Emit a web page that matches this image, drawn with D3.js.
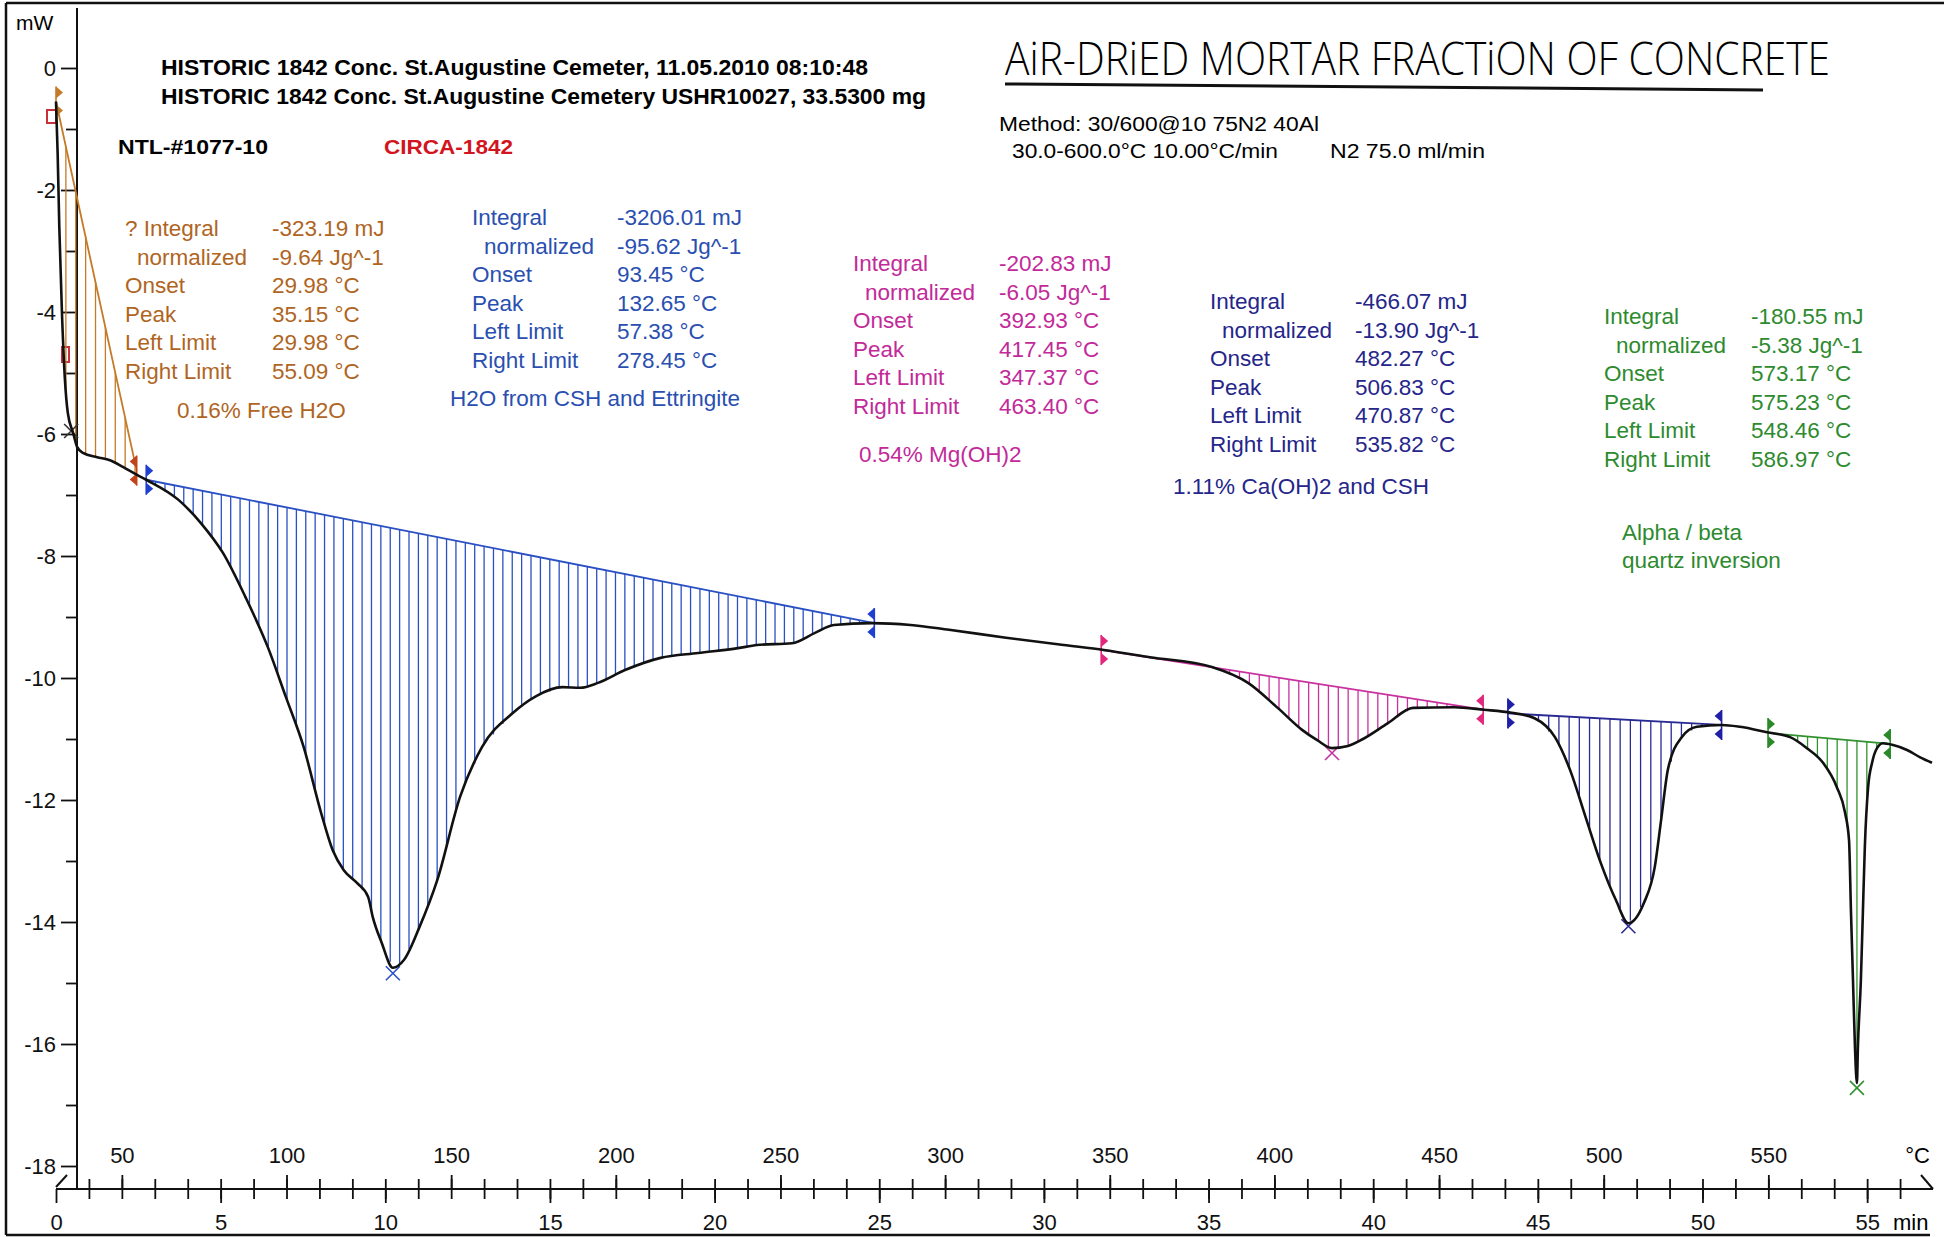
<!DOCTYPE html>
<html>
<head>
<meta charset="utf-8">
<title>DSC curve - air-dried mortar fraction of concrete</title>
<script src="https://cdn.jsdelivr.net/npm/d3@7"></script>
<style>
  body { margin: 0; background: #fff; }
  svg { display: block; font-family: "Liberation Sans", Arial, Helvetica, sans-serif; }
  .curve { fill: none; stroke: #111; stroke-width: 2.6px; stroke-linejoin: round; }
  .axis text { font-family: "Liberation Sans", Arial, sans-serif; font-size: 22px; fill: #111; }
  .axis line { stroke: #111; stroke-width: 1.8px; }
  .spine { stroke: #111; stroke-width: 2px; }
  .frame { stroke: #111; stroke-width: 2.5px; }
</style>
</head>
<body>
<script>
(function(){

    //measured DSC curve: time (min) and heat flow (mW)
    var curveMin = [0.00, 0.05, 0.10, 0.18, 0.27, 0.36, 0.52, 0.64, 0.82, 1.25,
        1.64, 2.03, 2.46, 2.74, 3.72, 4.40, 5.07, 5.75, 6.43, 6.98,
        7.52, 8.05, 8.40, 8.74, 9.14, 9.48, 9.62, 9.89, 10.23, 10.57,
        11.04, 11.58, 12.27, 12.94, 13.88, 14.57, 15.38, 15.92, 16.46, 17.28,
        18.36, 19.50, 20.71, 21.29, 22.35, 23.05, 23.62, 24.78, 25.95, 27.12,
        28.85, 30.60, 31.82, 33.22, 35.10, 36.20, 37.10, 37.84, 38.30, 38.75,
        39.20, 39.69, 40.45, 41.21, 42.45, 43.36, 44.20, 44.90, 45.52, 45.98,
        46.45, 46.91, 47.37, 47.75, 48.22, 48.55, 48.75, 48.95, 49.37, 49.83,
        50.59, 51.14, 51.96, 52.66, 53.17, 53.66, 54.08, 54.33, 54.45, 54.51,
        54.57, 54.63, 54.69, 54.72, 54.81, 54.87, 54.93, 55.03, 55.15, 55.30,
        55.48, 55.79, 56.21, 56.61, 56.97];
    var curveMw = [-0.55, -1.40, -2.60, -4.00, -5.10, -5.66, -5.98, -6.21, -6.31, -6.38,
        -6.43, -6.54, -6.67, -6.75, -7.08, -7.46, -7.95, -8.67, -9.49, -10.31,
        -11.13, -12.21, -12.82, -13.15, -13.36, -13.59, -13.92, -14.34, -14.75, -14.62,
        -14.08, -13.31, -11.95, -11.13, -10.57, -10.30, -10.15, -10.16, -10.08, -9.87,
        -9.67, -9.59, -9.51, -9.46, -9.43, -9.26, -9.13, -9.10, -9.13, -9.21,
        -9.34, -9.46, -9.54, -9.66, -9.82, -10.08, -10.49, -10.85, -11.02, -11.15,
        -11.12, -11.00, -10.74, -10.49, -10.48, -10.52, -10.57, -10.66, -10.97, -11.51,
        -12.28, -13.03, -13.64, -14.02, -13.69, -13.10, -12.30, -11.50, -10.97, -10.80,
        -10.77, -10.80, -10.89, -10.97, -11.15, -11.39, -11.79, -12.21, -12.66, -13.85,
        -14.95, -16.05, -16.64, -16.05, -14.95, -13.85, -12.77, -11.79, -11.39, -11.15,
        -11.07, -11.10, -11.18, -11.30, -11.39];

    //integration limits (baseline ends) and peak marks for the 5 evaluated peaks
    var peakLeftMin = [0.00, 2.74, 31.74, 44.09, 51.99];
    var peakLeftMw = [-0.55, -6.75, -9.54, -10.58, -10.90];
    var peakRightMin = [2.45, 24.85, 43.34, 50.58, 55.70];
    var peakRightMw = [-6.60, -9.10, -10.52, -10.77, -11.08];
    var peakMarkMin = [0.46, 10.23, 38.75, 47.75, 54.69];
    var peakMarkMw = [-5.95, -14.84, -11.23, -14.07, -16.72];

    //evaluation results printed next to each peak
    var resultLabels = ["Integral", "normalized", "Onset", "Peak", "Left Limit", "Right Limit"];
    var freeWaterValues = ["-323.19 mJ", "-9.64 Jg^-1", "29.98 °C", "35.15 °C", "29.98 °C", "55.09 °C"];
    var cshValues = ["-3206.01 mJ", "-95.62 Jg^-1", "93.45 °C", "132.65 °C", "57.38 °C", "278.45 °C"];
    var mgValues = ["-202.83 mJ", "-6.05 Jg^-1", "392.93 °C", "417.45 °C", "347.37 °C", "463.40 °C"];
    var caValues = ["-466.07 mJ", "-13.90 Jg^-1", "482.27 °C", "506.83 °C", "470.87 °C", "535.82 °C"];
    var quartzValues = ["-180.55 mJ", "-5.38 Jg^-1", "573.17 °C", "575.23 °C", "548.46 °C", "586.97 °C"];
    var peakNotes = [["0.16% Free H2O"], ["H2O from CSH and Ettringite"], ["0.54% Mg(OH)2"],
        ["1.11% Ca(OH)2 and CSH"], ["Alpha / beta", "quartz inversion"]];

    //axis ticks
    var mwMajorTicks = [0, -2, -4, -6, -8, -10, -12, -14, -16, -18];
    var mwMinorTicks = [-1, -3, -5, -7, -9, -11, -13, -15, -17];
    var minTicks = [0, 5, 10, 15, 20, 25, 30, 35, 40, 45, 50, 55];
    var tempTicks = [50, 100, 150, 200, 250, 300, 350, 400, 450, 500, 550];

    //header texts
    var headerLines = ["HISTORIC 1842 Conc. St.Augustine Cemeter, 11.05.2010 08:10:48",
        "HISTORIC 1842 Conc. St.Augustine Cemetery USHR10027, 33.5300 mg"];
    var sampleId = "NTL-#1077-10";
    var sampleAge = "CIRCA-1842";
    var handTitle = "AiR-DRiED MORTAR FRACTiON OF CONCRETE";
    var methodLines = ["Method: 30/600@10 75N2 40Al", "30.0-600.0°C 10.00°C/min", "N2 75.0 ml/min"];

    function setChart(){

        var width = 1944,
            height = 1237;

        var svg = d3.select("body")
            .append("svg")
            .attr("width", width)
            .attr("height", height);

        //time axis 0..57 min, temperature runs 30..600 °C on the same span
        var x = d3.scaleLinear().domain([0, 57]).range([56, 1933]);
        var xT = d3.scaleLinear().domain([30, 600]).range([56, 1933]);
        var y = d3.scaleLinear().domain([0, -18]).range([68, 1166]);
        var axisY = 1189, spineX = 77;

        //colours per peak
        var textColors = ["#b0651f", "#2a4fb0", "#c22a9a", "#25258a", "#2e8a2e"];
        var hatchColors = ["#c47a26", "#2a50c4", "#c8329f", "#2a2a95", "#32922f"];
        var leftMarkColors = ["#c47a26", "#1f3fd0", "#e2287c", "#1f1fa8", "#2a8a2a"];
        var rightMarkColors = ["#c2421a", "#1f3fd0", "#e2287c", "#1f1fa8", "#2a8a2a"];
        var hatchStep = [0.3, 0.285, 0.3, 0.31, 0.3];

        drawFrame(svg, width, height);
        drawAxes(svg, x, xT, y, axisY, spineX);
        drawPeaks(svg, x, y, textColors, hatchColors, leftMarkColors, rightMarkColors, hatchStep);

        //the DSC curve itself
        var line = d3.line()
            .x(function(d){ return x(d[0]); })
            .y(function(d){ return y(d[1]); })
            .curve(d3.curveMonotoneX);

        svg.append("path")
            .datum(d3.zip(curveMin, curveMw))
            .attr("class", "curve")
            .attr("d", line);

        drawTexts(svg, textColors);
    };

    function drawFrame(svg, width, height){
        svg.append("line").attr("class", "frame").attr("x1", 6).attr("y1", 3).attr("x2", width).attr("y2", 3);
        svg.append("line").attr("class", "frame").attr("x1", 6).attr("y1", 3).attr("x2", 6).attr("y2", 1235);
        svg.append("line").attr("class", "frame").attr("x1", 6).attr("y1", 1235).attr("x2", 1930).attr("y2", 1235);
    };

    function drawAxes(svg, x, xT, y, axisY, spineX){
        var noMinus = function(d){ return String(d); };

        //y axis: spine, major and minor ticks
        svg.append("line").attr("class", "spine")
            .attr("x1", spineX).attr("y1", 8).attr("x2", spineX).attr("y2", axisY);

        svg.append("g")
            .attr("class", "axis")
            .attr("transform", "translate(" + spineX + ",0)")
            .call(d3.axisLeft(y).tickValues(mwMajorTicks).tickSize(16).tickPadding(5).tickFormat(noMinus))
            .call(function(g){ g.select(".domain").remove(); });

        svg.append("g")
            .attr("class", "axis")
            .attr("transform", "translate(" + spineX + ",0)")
            .call(d3.axisLeft(y).tickValues(mwMinorTicks).tickSize(11).tickFormat(""))
            .call(function(g){ g.select(".domain").remove(); });

        svg.append("text")
            .attr("x", 16).attr("y", 30)
            .style("font-size", "21px")
            .text("mW");

        //x axis line with break marks at both ends
        svg.append("line").attr("class", "spine")
            .attr("x1", x(0)).attr("y1", axisY).attr("x2", x(57)).attr("y2", axisY);
        svg.append("line").attr("class", "spine")
            .attr("x1", x(0)).attr("y1", axisY - 2).attr("x2", x(0) + 11).attr("y2", axisY - 14);
        svg.append("line").attr("class", "spine")
            .attr("x1", x(57) - 12).attr("y1", axisY - 14).attr("x2", x(57)).attr("y2", axisY);

        //minute ticks crossing the axis
        svg.append("g")
            .attr("class", "axis")
            .attr("transform", "translate(0," + (axisY - 10) + ")")
            .call(d3.axisBottom(x).tickValues(d3.range(1, 57)).tickSize(20).tickFormat(""))
            .call(function(g){ g.select(".domain").remove(); });

        //time labels below
        svg.append("g")
            .attr("class", "axis")
            .attr("transform", "translate(0," + axisY + ")")
            .call(d3.axisBottom(x).tickValues(minTicks).tickSize(14).tickPadding(11).tickFormat(noMinus))
            .call(function(g){ g.select(".domain").remove(); });

        //temperature labels above
        svg.append("g")
            .attr("class", "axis")
            .attr("transform", "translate(0," + axisY + ")")
            .call(d3.axisTop(xT).tickValues(tempTicks).tickSize(14).tickPadding(12).tickFormat(noMinus))
            .call(function(g){ g.select(".domain").remove(); });

        svg.append("text")
            .attr("x", 1930).attr("y", axisY - 26)
            .attr("text-anchor", "end")
            .style("font-size", "22px")
            .text("°C");

        svg.append("text")
            .attr("x", 1893).attr("y", axisY + 41)
            .style("font-size", "22px")
            .text("min");
    };

    //linear reading of the curve at a given time, used for the hatch ends
    function curveAt(t){
        var i = d3.bisectLeft(curveMin, t);
        if (i <= 0) return curveMw[0];
        if (i >= curveMin.length) return curveMw[curveMw.length - 1];
        var t0 = curveMin[i - 1], t1 = curveMin[i];
        return curveMw[i - 1] + (curveMw[i] - curveMw[i - 1]) * (t - t0) / (t1 - t0);
    };

    function limitMarker(g, px, py, dir, color){
        var top = py - 15, bot = py + 15;
        g.append("line")
            .attr("x1", px).attr("y1", top).attr("x2", px).attr("y2", bot)
            .attr("stroke", color).attr("stroke-width", 1.6);
        g.append("path")
            .attr("d", "M" + px + "," + top + "L" + (px + dir * 7) + "," + (top + 6) + "L" + px + "," + (top + 12) + "Z")
            .attr("fill", color);
        g.append("path")
            .attr("d", "M" + px + "," + bot + "L" + (px + dir * 7) + "," + (bot - 6) + "L" + px + "," + (bot - 12) + "Z")
            .attr("fill", color);
    };

    function drawPeaks(svg, x, y, textColors, hatchColors, leftMarkColors, rightMarkColors, hatchStep){

        //small red reference boxes near the start of the run
        svg.append("rect").attr("x", 47).attr("y", 110).attr("width", 9).attr("height", 13)
            .attr("fill", "none").attr("stroke", "#c8303a").attr("stroke-width", 2);
        svg.append("rect").attr("x", 62).attr("y", 347).attr("width", 7).attr("height", 15)
            .attr("fill", "none").attr("stroke", "#c8303a").attr("stroke-width", 2);

        peakLeftMin.forEach(function(tL, i){
            var g = svg.append("g").attr("class", "peak peak" + i);
            var tR = peakRightMin[i], vL = peakLeftMw[i], vR = peakRightMw[i];
            var base = d3.scaleLinear().domain([tL, tR]).range([vL, vR]);

            //vertical hatching between baseline and curve
            var hatch = d3.range(tL + hatchStep[i], tR, hatchStep[i]).filter(function(t){
                return curveAt(t) < base(t) - 0.03;
            });
            g.selectAll(".hatch")
                .data(hatch)
                .enter()
                .append("line")
                .attr("class", "hatch")
                .attr("x1", function(t){ return x(t); })
                .attr("x2", function(t){ return x(t); })
                .attr("y1", function(t){ return y(base(t)); })
                .attr("y2", function(t){ return y(curveAt(t)); })
                .attr("stroke", hatchColors[i])
                .attr("stroke-width", 1.3);

            //baseline
            g.append("line")
                .attr("x1", x(tL)).attr("y1", y(vL))
                .attr("x2", x(tR)).attr("y2", y(vR))
                .attr("stroke", hatchColors[i])
                .attr("stroke-width", 1.8);

            limitMarker(g, x(tL), y(vL), 1, leftMarkColors[i]);
            limitMarker(g, x(tR), y(vR), -1, rightMarkColors[i]);

            //peak cross
            var px = x(peakMarkMin[i]), py = y(peakMarkMw[i]);
            var crossColor = i === 0 ? "#333" : hatchColors[i];
            g.append("path")
                .attr("d", "M" + (px - 7) + "," + (py - 7) + "L" + (px + 7) + "," + (py + 7) +
                    "M" + (px + 7) + "," + (py - 7) + "L" + (px - 7) + "," + (py + 7))
                .attr("stroke", crossColor)
                .attr("stroke-width", 1.6)
                .attr("fill", "none");
        });
    };

    function drawTexts(svg, textColors){

        //header
        var header = svg.append("g").style("font-weight", "bold").style("font-size", "22px");
        header.append("text").attr("x", 161).attr("y", 75)
            .attr("textLength", 707).attr("lengthAdjust", "spacingAndGlyphs").text(headerLines[0]);
        header.append("text").attr("x", 161).attr("y", 104)
            .attr("textLength", 765).attr("lengthAdjust", "spacingAndGlyphs").text(headerLines[1]);
        header.append("text").attr("x", 118).attr("y", 154).style("font-size", "21px")
            .attr("textLength", 150).attr("lengthAdjust", "spacingAndGlyphs").text(sampleId);
        header.append("text").attr("x", 384).attr("y", 154).style("font-size", "21px")
            .attr("fill", "#d2141e")
            .attr("textLength", 129).attr("lengthAdjust", "spacingAndGlyphs").text(sampleAge);

        //hand written title with underline
        svg.append("text")
            .attr("x", 1005).attr("y", 75)
            .style("font-family", "'Open Sans', 'DejaVu Sans', sans-serif")
            .style("font-weight", 300)
            .style("font-size", "46px")
            .attr("textLength", 825).attr("lengthAdjust", "spacingAndGlyphs")
            .text(handTitle);
        svg.append("line")
            .attr("x1", 1005).attr("y1", 84).attr("x2", 1763).attr("y2", 90)
            .attr("stroke", "#111").attr("stroke-width", 3);

        //method
        var method = svg.append("g").style("font-size", "20px");
        method.append("text").attr("x", 999).attr("y", 131)
            .attr("textLength", 320).attr("lengthAdjust", "spacingAndGlyphs").text(methodLines[0]);
        method.append("text").attr("x", 1012).attr("y", 158)
            .attr("textLength", 266).attr("lengthAdjust", "spacingAndGlyphs").text(methodLines[1]);
        method.append("text").attr("x", 1330).attr("y", 158)
            .attr("textLength", 155).attr("lengthAdjust", "spacingAndGlyphs").text(methodLines[2]);

        //result blocks
        var blockValues = [freeWaterValues, cshValues, mgValues, caValues, quartzValues];
        var blockLayout = [
            {lx: 125, vx: 272, y0: 236, nx: 177, ny: 418},
            {lx: 472, vx: 617, y0: 225, nx: 450, ny: 406},
            {lx: 853, vx: 999, y0: 271, nx: 859, ny: 462},
            {lx: 1210, vx: 1355, y0: 309, nx: 1173, ny: 494},
            {lx: 1604, vx: 1751, y0: 324, nx: 1622, ny: 540}
        ];
        var rowGap = 28.6;

        blockValues.forEach(function(values, i){
            var L = blockLayout[i];
            var g = svg.append("g")
                .attr("fill", textColors[i])
                .style("font-size", "22.5px");

            resultLabels.forEach(function(label, r){
                var text = (i === 0 && r === 0) ? "? " + label : label;
                g.append("text")
                    .attr("x", r === 1 ? L.lx + 12 : L.lx)
                    .attr("y", L.y0 + r * rowGap)
                    .text(text);
                g.append("text")
                    .attr("x", L.vx)
                    .attr("y", L.y0 + r * rowGap)
                    .text(values[r]);
            });

            peakNotes[i].forEach(function(note, r){
                g.append("text")
                    .attr("x", L.nx)
                    .attr("y", L.ny + r * 28)
                    .text(note);
            });
        });
    };

    setChart();

})();
</script>
</body>
</html>
